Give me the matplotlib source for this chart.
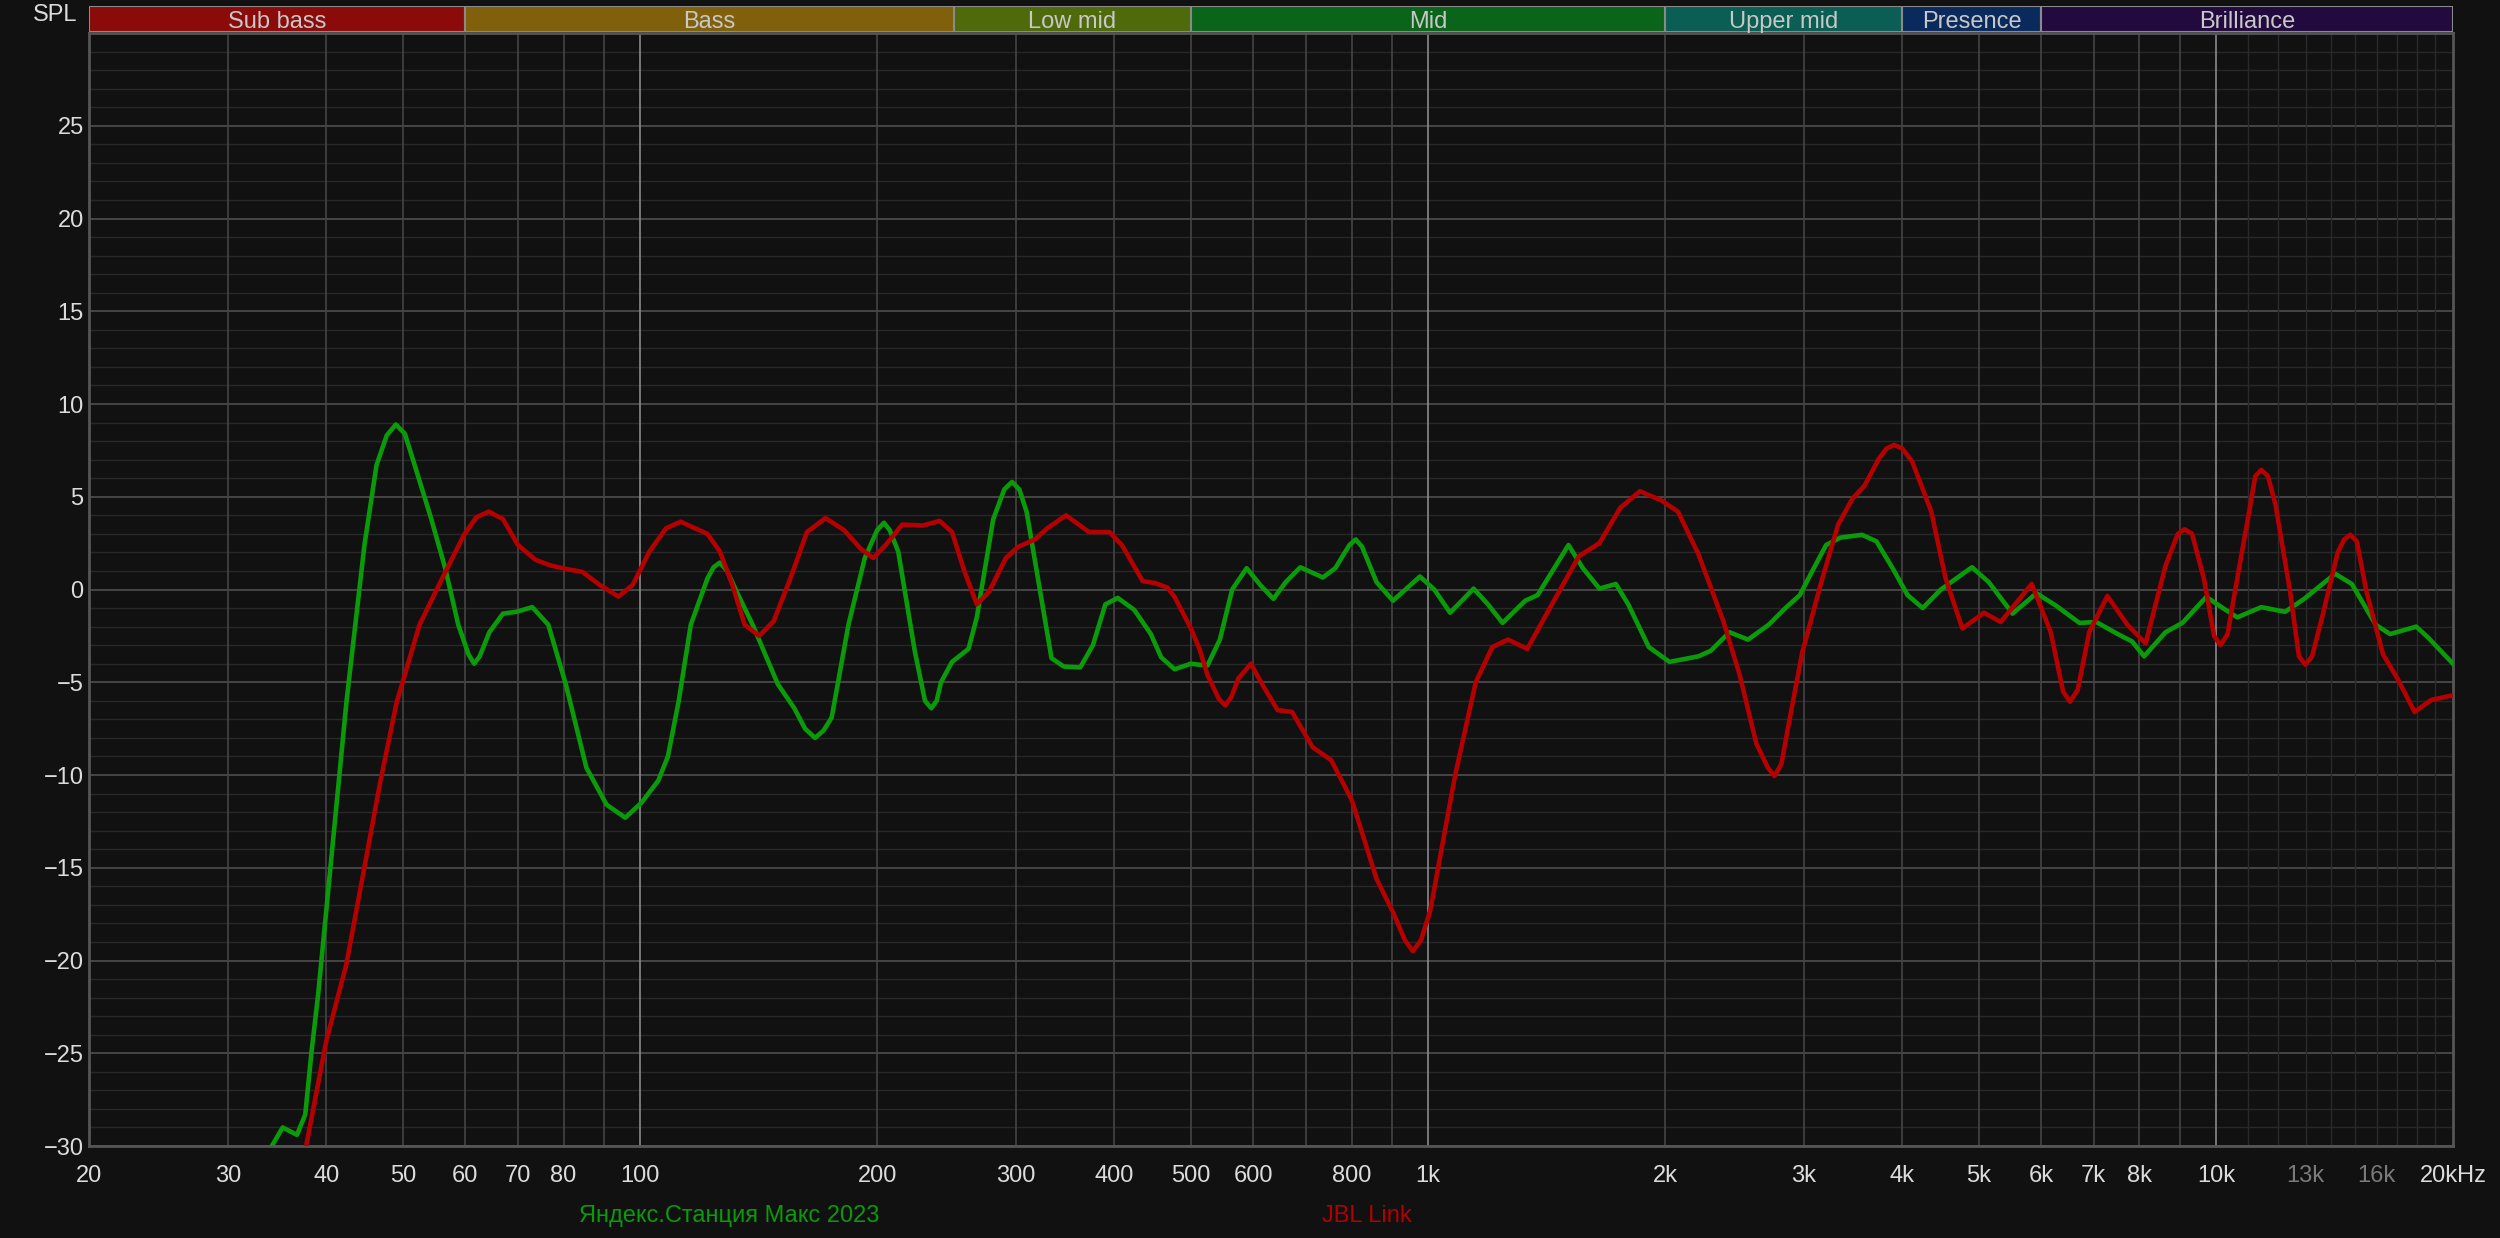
import numpy as np
import matplotlib.pyplot as plt
from matplotlib.patches import Rectangle

plt.rcParams['font.family'] = ['Liberation Sans Narrow', 'Liberation Sans', 'DejaVu Sans']

yandex_f = [34.1, 35.2, 36.7, 37.6, 38.3, 39.05, 40.0, 41.2, 42.4, 44.7, 46.3, 47.7, 49.0, 50.3, 51.6,
            54.3, 56.6, 58.8, 60.6, 61.6, 62.6, 64.4, 67.0, 69.7, 73.0, 76.5, 80.5, 85.5, 90.7, 95.8,
            100.4, 105.5, 108.5, 112, 116, 121.8, 124, 126.3, 129, 132.6, 139, 149.6, 157, 162,
            166.8, 171, 175.1, 183.9, 192.9, 200, 204, 207.5, 212.7, 223.2, 230, 234.3, 238, 241,
            248.9, 261.2, 267.6, 280.8, 290, 296.6, 303, 309.5, 321, 332.9, 345, 362, 375.7, 389.6,
            404, 424, 445, 458.6, 477, 500, 525, 544.5, 564.4, 588.8, 614, 636.8, 660, 688.7, 735.8,
            762.9, 795, 810, 825, 860.6, 903, 977, 1019, 1067, 1143, 1192, 1244, 1329, 1378, 1508,
            1573, 1651, 1732, 1796, 1907, 2026, 2205, 2286, 2414, 2549, 2707, 2843, 2965, 3071, 3202,
            3339, 3556, 3709, 3895, 4062, 4247, 4477, 4904, 5150, 5521, 5920, 6260, 6713, 7050, 7509,
            7830, 8109, 8635, 9069, 9726, 10209, 10647, 11422, 12246, 12949, 14171, 14881, 15956,
            16641, 17963, 18608, 20000]
yandex_db = [-30, -29.0, -29.4, -28.3, -24.9, -21.8, -17.2, -11.5, -6.1, 2.4, 6.7, 8.3, 8.9, 8.4, 6.9,
             3.85, 1.15, -1.9, -3.5, -4.0, -3.6, -2.3, -1.3, -1.2, -0.95, -1.9, -5.1, -9.6, -11.6, -12.3,
             -11.5, -10.3, -9.0, -6.0, -1.9, 0.6, 1.2, 1.45, 1.0, -0.1, -1.9, -5.1, -6.4, -7.5,
             -8.0, -7.6, -6.9, -1.9, 1.7, 3.2, 3.6, 3.2, 2.05, -3.3, -6.0, -6.4, -6.0, -5.0,
             -3.9, -3.2, -1.5, 3.8, 5.4, 5.8, 5.4, 4.2, 0.25, -3.7, -4.15, -4.2, -3.0, -0.8,
             -0.45, -1.1, -2.4, -3.65, -4.3, -4.0, -4.1, -2.7, 0, 1.15, 0.2, -0.5, 0.4, 1.2, 0.65,
             1.15, 2.4, 2.7, 2.3, 0.4, -0.6, 0.7, 0, -1.25, 0.05, -0.8, -1.8, -0.6, -0.3, 2.4,
             1.15, 0.05, 0.3, -0.8, -3.1, -3.9, -3.6, -3.3, -2.3, -2.7, -1.9, -1.0, -0.3, 0.95, 2.4,
             2.8, 2.95, 2.6, 1.1, -0.3, -1.0, 0, 1.2, 0.4, -1.3, -0.2, -0.85, -1.8, -1.75, -2.4,
             -2.8, -3.6, -2.3, -1.8, -0.4, -1.0, -1.5, -0.95, -1.2, -0.5, 0.85, 0.3, -1.9,
             -2.4, -2.0, -2.6, -4.0]

jbl_f = [37.7, 40.0, 42.4, 44.5, 46.8, 49.1, 52.5, 56.1, 59.8, 62, 64.3, 67, 70, 73.7, 77, 80.8,
         84.5, 88.9, 93.9, 97.9, 102.8, 107.9, 112.6, 121.8, 126.3, 131, 135.8, 141.7, 147.8,
         155.2, 162.9, 172, 181.6, 190.6, 197.7, 205, 215.2, 228.5, 240, 248.9, 258, 267.6,
         277.5, 291.3, 302, 317, 328.8, 347.3, 371.4, 394.2, 408.9, 434.6, 450.6, 467.3, 477,
         500.3, 513, 525, 543, 553, 563, 574.6, 596, 618, 644.6, 672.4, 714, 754, 800.6, 860.6,
         903.2, 935, 957, 980, 1007, 1083, 1150, 1207, 1263.6, 1337, 1428, 1555, 1651, 1754,
         1858, 1979, 2077, 2205, 2371, 2487, 2611, 2700, 2753, 2810, 2863, 2986, 3157, 3316,
         3458, 3582, 3735, 3820, 3906, 4000, 4118, 4354, 4540, 4768, 5079, 5333, 5839, 6173,
         6400, 6531, 6680, 6907, 7284, 7724, 8146, 8635, 8950, 9131, 9330, 9657, 9950, 10139,
         10350, 10647, 11024, 11220, 11422, 11650, 11909, 12423, 12750, 12989, 13250, 13698,
         14280, 14550, 14812, 15100, 15528, 16304, 17005, 17876, 18771, 20000]
jbl_db = [-30, -24.3, -20.2, -15.4, -10.4, -6.1, -1.9, 0.6, 2.95, 3.9, 4.2, 3.8, 2.4, 1.6, 1.3, 1.1,
          0.95, 0.25, -0.38, 0.25, 2.05, 3.3, 3.66, 3.0, 2.05, 0.25, -1.9, -2.5, -1.7,
          0.6, 3.1, 3.85, 3.2, 2.2, 1.7, 2.4, 3.5, 3.45, 3.7, 3.1, 1.0, -0.8,
          -0.1, 1.7, 2.3, 2.7, 3.3, 4.0, 3.1, 3.1, 2.4, 0.45, 0.35, 0.1, -0.4,
          -2.1, -3.2, -4.6, -5.9, -6.25, -5.8, -4.8, -4.0, -5.2, -6.5, -6.6, -8.5, -9.2, -11.35, -15.6,
          -17.4, -18.9, -19.5, -18.9, -17.3, -10.0, -5.0, -3.1, -2.7, -3.2, -1.0, 1.8, 2.5, 4.4,
          5.3, 4.8, 4.2, 1.9, -1.7, -4.6, -8.3, -9.6, -10.05, -9.4, -7.5, -3.4, 0.4, 3.5,
          4.9, 5.6, 7.05, 7.6, 7.8, 7.6, 6.9, 4.2, 0.6, -2.1, -1.25, -1.75, 0.3, -2.3,
          -5.5, -6.05, -5.4, -2.3, -0.35, -1.9, -2.9, 1.3, 3.0, 3.25, 3.0, 0.6, -2.5, -3.0,
          -2.4, 0.6, 4.2, 6.1, 6.45, 6.1, 4.55, -0.1, -3.6, -4.05, -3.6, -1.2,
          2.0, 2.7, 2.95, 2.6, -0.1, -3.5, -4.8, -6.6, -5.95, -5.7]

# frequency bands across the top
band_names = ["Sub bass", "Bass", "Low mid", "Mid", "Upper mid", "Presence", "Brilliance"]
band_edges = [20, 60, 250, 500, 2000, 4000, 6000, 20000]
band_colors = ["#8b0a0a", "#80600a", "#4e6a0a", "#0a6419", "#0a5e54", "#0a2a5e", "#230a3e"]

tick_vals = [20, 30, 40, 50, 60, 70, 80, 100, 200, 300, 400, 500, 600, 800,
             1000, 2000, 3000, 4000, 5000, 6000, 7000, 8000, 10000, 13000, 16000, 20000]
tick_text = ["20", "30", "40", "50", "60", "70", "80", "100", "200", "300", "400", "500", "600", "800",
             "1k", "2k", "3k", "4k", "5k", "6k", "7k", "8k", "10k", "13k", "16k", "20kHz"]

BG = "#111111"
GREEN = "#0a9a0a"
RED = "#b40000"

fig = plt.figure(figsize=(25, 12.38), dpi=100, facecolor=BG)
ax = fig.add_axes([0.0357, 0.0743, 0.9455, 0.899])
ax.set_facecolor(BG)
ax.set_xscale("log")
ax.set_xlim(20, 20000)
ax.set_ylim(-30, 30)

# grid
for db in range(-30, 31):
    c, lw = ("#4a4a4a", 1.3) if db % 5 == 0 else ("#282828", 1.0)
    ax.axhline(db, color=c, lw=lw, zorder=1)
grid_f = list(range(30, 100, 10)) + list(range(200, 1000, 100)) + list(range(2000, 10000, 1000))
for f in grid_f:
    ax.axvline(f, color="#444444", lw=1.2, zorder=1)
for f in range(11000, 20000, 1000):
    ax.axvline(f, color="#2a2a2a", lw=1.0, zorder=1)
for f in [100, 1000, 10000]:
    ax.axvline(f, color="#8a8a8a", lw=1.2, zorder=1)

ax.plot(yandex_f, yandex_db, color=GREEN, lw=3.3, zorder=3, solid_joinstyle="round")
ax.plot(jbl_f, jbl_db, color=RED, lw=3.3, zorder=4, solid_joinstyle="round")

ax.set_xticks(tick_vals)
ax.set_xticklabels(tick_text)
ax.xaxis.set_minor_locator(plt.NullLocator())
ax.set_yticks(range(-30, 30, 5))
ax.tick_params(axis="both", length=0, labelsize=17, colors="#dcdcdc")
ax.tick_params(axis="x", pad=14)
ax.tick_params(axis="y", pad=4)
for lab in ax.get_xticklabels():
    if lab.get_text() in ("13k", "16k"):
        lab.set_color("#7a7a7a")
for sp in ax.spines.values():
    sp.set_color("#555555")
    sp.set_linewidth(2)

# band strip
bax = fig.add_axes([0.0357, 0.9742, 0.9455, 0.021])
bax.set_xscale("log")
bax.set_xlim(20, 20000)
bax.set_ylim(0, 1)
bax.axis("off")
for name, lo, hi, col in zip(band_names, band_edges[:-1], band_edges[1:], band_colors):
    bax.add_patch(Rectangle((lo, 0), hi - lo, 1, facecolor=col, edgecolor="#8a8a8a", lw=1.5))
    bax.text(np.sqrt(lo * hi), 0.38, name, ha="center", va="center", fontsize=17, color="#c8c8c8")

fig.text(0.022, 0.988, "SPL", ha="center", va="center", fontsize=17, color="#dcdcdc")

# legend labels
fig.text(0.2916, 0.0178, "Яндекс.Станция Макс 2023", ha="center", va="center", fontsize=17, color=GREEN)
fig.text(0.5468, 0.0178, "JBL Link", ha="center", va="center", fontsize=17, color=RED)

fig.savefig("out.png", dpi=100, facecolor=BG)
